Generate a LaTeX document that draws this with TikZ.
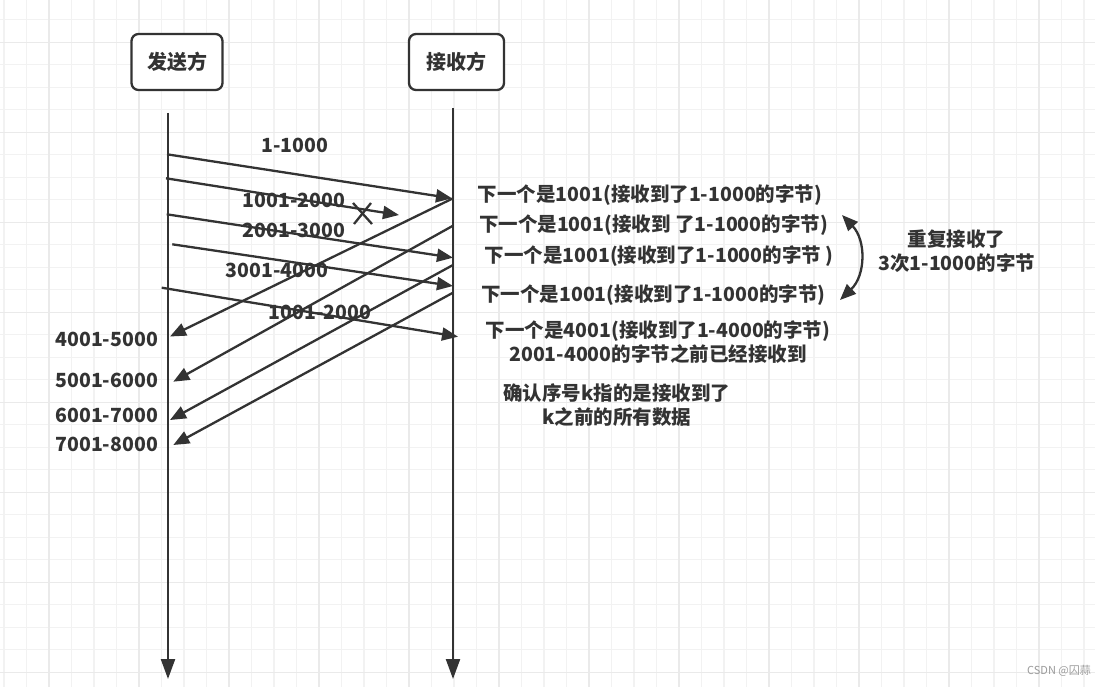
\documentclass[tikz,border=0pt]{standalone}
\usepackage{fontspec}
\setmainfont{Noto Sans CJK SC}
\usetikzlibrary{arrows.meta}
\definecolor{ink}{HTML}{333333}
\definecolor{gminorc}{HTML}{F2F2F2}
\definecolor{gmajorc}{HTML}{EAEAEA}
\definecolor{wm}{HTML}{9A9A9A}
\tikzset{
  gminor/.style={draw=gminorc, line width=1.1pt},
  gmajor/.style={draw=gmajorc, line width=1.2pt},
  ln/.style={draw=ink, line width=2.3pt},
  msg/.style={ln, -{Triangle[length=16pt,width=13pt]}},
  life/.style={ln, -{Triangle[length=20pt,width=14pt]}},
  boxnode/.style={draw=ink, line width=2.3pt, rounded corners=7pt, fill=white,
    minimum height=56pt, inner sep=0pt, text=ink,
    font=\bfseries\fontsize{20}{22}\selectfont},
  lbl/.style={inner sep=0pt, text=ink, font=\bfseries\fontsize{19.5}{24}\selectfont},
  xmark/.style={ln, line width=2.3pt},
}
\begin{document}
\begin{tikzpicture}[x=1pt,y=-1pt]
\useasboundingbox (0,0) rectangle (1095,687);
\fill[white] (0,0) rectangle (1095,687);
% grid
\foreach \i in {0,...,48} \draw[gminor] ({4+22.5*\i},0) -- ({4+22.5*\i},687);
\foreach \i in {0,...,31} \draw[gminor] (0,{-2.7+22.5*\i}) -- (1095,{-2.7+22.5*\i});
\foreach \i in {0,...,11} \draw[gmajor] ({49+90*\i},0) -- ({49+90*\i},687);
\foreach \i in {0,...,7} \draw[gmajor] (0,{42.3+90*\i}) -- (1095,{42.3+90*\i});

% participants
\node[boxnode, minimum width=91pt] (snd) at (177,62) {发送方};
\node[boxnode, minimum width=95pt] (rcv) at (456.5,62) {接收方};

% lifelines
\coordinate (s0) at (168,113);
\coordinate (s1) at (168,679);
\coordinate (r0) at (453,108);
\coordinate (r1) at (453,679);
\draw[life] (s0) -- (s1);
\draw[life] (r0) -- (r1);

% data segments
\coordinate (m1a) at (167,154.3);   \coordinate (m1b) at (452,198.3);
\coordinate (m2a) at (166,178.3);   \coordinate (m2b) at (399,215);
\coordinate (m3a) at (166.7,214.3); \coordinate (m3b) at (453,257.7);
\coordinate (m4a) at (172.3,244.3); \coordinate (m4b) at (453,286);
\coordinate (m5a) at (161.7,287.7); \coordinate (m5b) at (458,336.7);
\draw[msg] (m1a) -- (m1b);
\draw[msg] (m2a) -- (m2b);
\draw[msg] (m3a) -- (m3b);
\draw[msg] (m4a) -- (m4b);
\draw[msg] (m5a) -- (m5b);

% lost mark
\coordinate (xa) at (353,203); \coordinate (xb) at (372,224);
\coordinate (xc) at (371,203); \coordinate (xd) at (354,224);
\draw[xmark] (xa) -- (xb);
\draw[xmark] (xc) -- (xd);

% acks
\coordinate (a1a) at (453,198.3); \coordinate (a1b) at (170,336.5);
\coordinate (a2a) at (453,225.7); \coordinate (a2b) at (173.3,381.7);
\coordinate (a3a) at (453,265);   \coordinate (a3b) at (170,420);
\coordinate (a4a) at (453,292.7); \coordinate (a4b) at (173.3,445);
\draw[msg] (a1a) -- (a1b);
\draw[msg] (a2a) -- (a2b);
\draw[msg] (a3a) -- (a3b);
\draw[msg] (a4a) -- (a4b);

% segment labels
\node[lbl] (l1) at (295,145) {1-1000};
\node[lbl] (l2) at (294,200.7) {1001-2000};
\node[lbl] (l3) at (294,230) {2001-3000};
\node[lbl] (l4) at (277,270.7) {3001-4000};
\node[lbl] (l5) at (320,312.7) {1001-2000};

\node[lbl] (k1) at (106.7,339) {4001-5000};
\node[lbl] (k2) at (106.7,380) {5001-6000};
\node[lbl] (k3) at (106.7,415) {6001-7000};
\node[lbl] (k4) at (106.7,444) {7001-8000};

% receiver notes
\node[lbl] (n1) at (650,195) {下一个是1001(接收到了1-1000的字节)};
\node[lbl] (n2) at (653.5,225) {下一个是1001(接收到 了1-1000的字节)};
\node[lbl] (n3) at (659,256) {下一个是1001(接收到了1-1000的字节 )};
\node[lbl] (n4) at (653.5,295) {下一个是1001(接收到了1-1000的字节)};
\node[lbl, align=center] (n5) at (658,342) {下一个是4001(接收到了1-4000的字节)\\2001-4000的字节之前已经接收到};

% repeat note
\coordinate (cA) at (842,215);
\coordinate (cB) at (840,300);
\draw[ln, {Triangle[length=16pt,width=13pt]}-{Triangle[length=16pt,width=13pt]}] (cA) .. controls (866,240) and (866,275) .. (cB);
\node[lbl, align=center] (rep) at (956.7,251.3) {重复接收了\\3次1-1000的字节};

\node[lbl, align=center] (def) at (616.7,405) {确认序号k指的是接收到了\\k之前的所有数据};

\node[inner sep=0pt, text=wm, font=\fontsize{11}{12}\selectfont] (wmk) at (1059,671) {CSDN @囚蒜};
\end{tikzpicture}
\end{document}
